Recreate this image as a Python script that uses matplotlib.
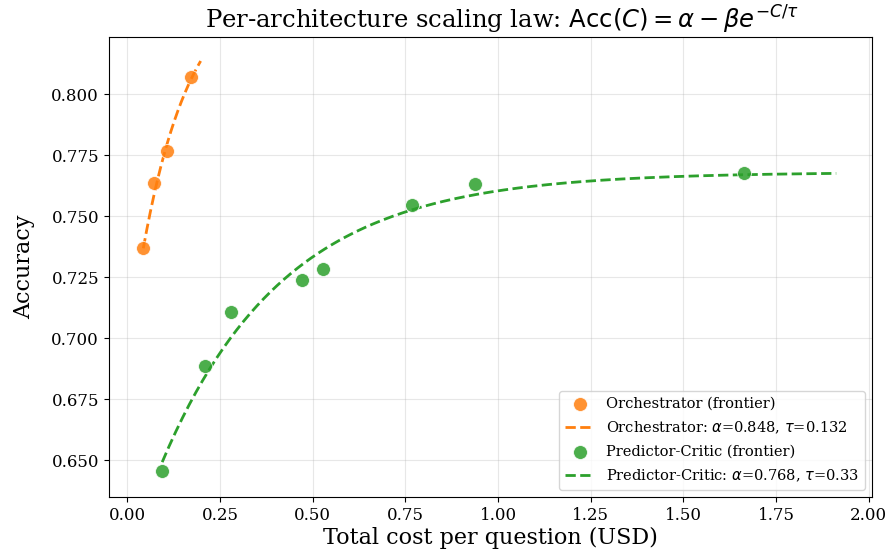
import numpy as np
import matplotlib
matplotlib.use("Agg")
import matplotlib.pyplot as plt

plt.rcParams['font.family'] = 'DejaVu Serif'

orch_cost = [0.043, 0.073, 0.108, 0.172]
orch_acc = [0.737, 0.7635, 0.7765, 0.807]
orch_alpha, orch_beta, orch_tau = 0.848, 0.154, 0.132

pc_cost = [0.094, 0.210, 0.280, 0.472, 0.528, 0.768, 0.938, 1.663]
pc_acc = [0.6455, 0.6885, 0.7107, 0.7238, 0.7282, 0.7545, 0.7632, 0.7676]
pc_alpha, pc_beta, pc_tau = 0.768, 0.158, 0.33

orange = '#ff7f0e'
green = '#2ca02c'

fig = plt.figure(figsize=(8.92, 5.58), dpi=100)
ax = fig.add_axes([0.122, 0.109, 0.856, 0.825])

def curve(xmin, xmax, a, b, t):
    c = np.linspace(xmin, xmax, 200)
    return c, a - b * np.exp(-c / t)

ax.scatter(orch_cost, orch_acc, s=100, color=orange, alpha=0.85,
           edgecolors='white', linewidths=0.6, zorder=3,
           label='Orchestrator (frontier)')
cx, cy = curve(min(orch_cost), max(orch_cost) * 1.15, orch_alpha, orch_beta, orch_tau)
ax.plot(cx, cy, '--', color=orange, lw=2,
        label=rf'Orchestrator: $\alpha$={orch_alpha}, $\tau$={orch_tau}')

ax.scatter(pc_cost, pc_acc, s=100, color=green, alpha=0.85,
           edgecolors='white', linewidths=0.6, zorder=3,
           label='Predictor-Critic (frontier)')
cx, cy = curve(min(pc_cost), max(pc_cost) * 1.15, pc_alpha, pc_beta, pc_tau)
ax.plot(cx, cy, '--', color=green, lw=2,
        label=rf'Predictor-Critic: $\alpha$={pc_alpha}, $\tau$={pc_tau}')

ax.set_xticks(np.arange(0, 2.01, 0.25))
ax.set_yticks(np.arange(0.65, 0.801, 0.025))
ax.set_xlim(-0.05, 2.01)
ax.set_ylim(0.6348, 0.8235)
ax.grid(True, alpha=0.3)
ax.tick_params(labelsize=12)
ax.set_xlabel('Total cost per question (USD)', fontsize=16, labelpad=2)
ax.set_ylabel('Accuracy', fontsize=16, labelpad=12)
ax.set_title(r'Per-architecture scaling law: $\mathrm{Acc}(C) = \alpha - \beta e^{-C/\tau}$',
             fontsize=17.5, pad=6, x=0.515)
ax.legend(loc='lower right', fontsize=10.5, labelspacing=0.6)

fig.savefig('out.png', dpi=100)
